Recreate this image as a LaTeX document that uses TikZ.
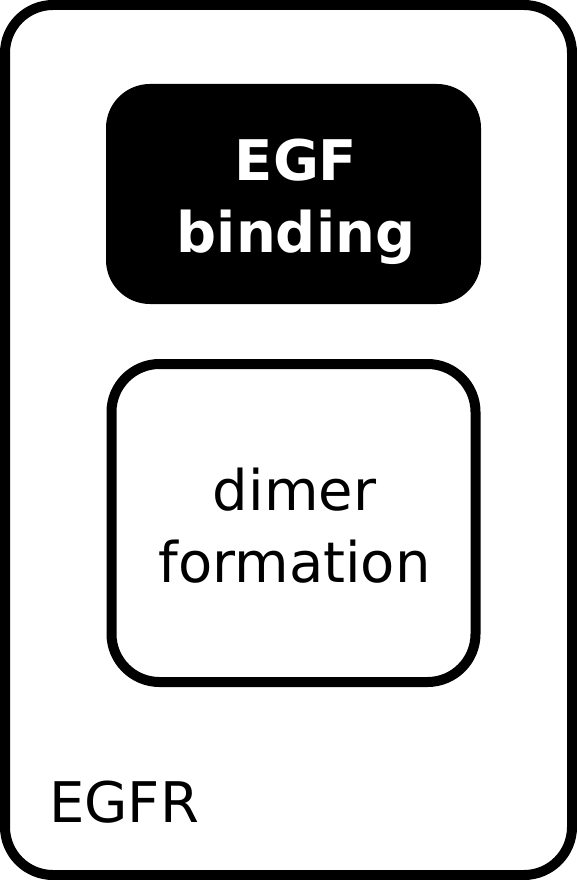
\documentclass[tikz,border=0pt]{standalone}
\usepackage{fontspec}
\setmainfont{DejaVu Sans}
\usetikzlibrary{positioning}
\tikzset{
	domainbox/.style={
		draw, rectangle, line width=10pt, rounded corners=48pt,
		inner sep=0pt, outer sep=0pt
	},
	activebox/.style={
		fill=black, rectangle, rounded corners=44pt,
		inner sep=0pt, outer sep=0pt
	},
	boxtext/.style={
		align=center, inner sep=0pt,
		font=\fontsize{56}{71.5}\selectfont
	},
	bindtext/.style={
		boxtext, text=white,
		font=\fontsize{56}{72}\selectfont\bfseries
	}
}
\begin{document}
\begin{tikzpicture}[x=1pt,y=-1pt]
	\useasboundingbox (0,0) rectangle (577,880);
	\node[domainbox, minimum width=567pt, minimum height=870pt] (egfr) at (288.5,440) {};
	\node[activebox, minimum width=375pt, minimum height=220pt] (egf) at (293.5,194) {};
	\node[domainbox, minimum width=364pt, minimum height=318pt] (dimer) [below=60pt of egf] {};
	\node[bindtext] (egflabel) at ([xshift=2.5pt,yshift=-8pt]egf.center) {EGF\\binding};
	\node[boxtext] (dimerlabel) at ([xshift=1pt,yshift=-2.5pt]dimer.center) {dimer\\formation};
	\node[boxtext, anchor=base west] (egfrlabel) at (49,822) {EGFR};
\end{tikzpicture}
\end{document}
